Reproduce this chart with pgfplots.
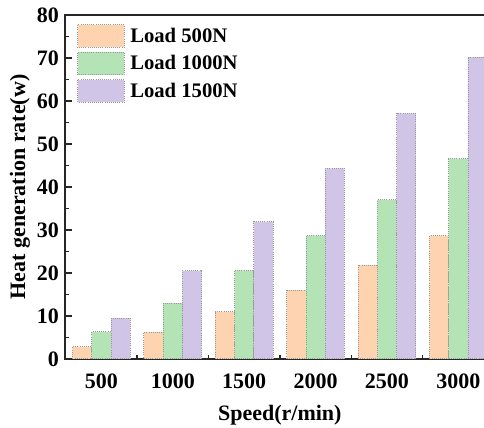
\documentclass[border=0pt]{standalone}
\usepackage{pgfplots}
\pgfplotsset{compat=1.18}
\usepackage{fontspec}
\setmainfont{Liberation Serif}

\definecolor{cOrange}{HTML}{FDD4AF}
\definecolor{cGreen}{HTML}{B4E3B6}
\definecolor{cPurple}{HTML}{D0C5E6}
\newcommand{\lbl}{\fontsize{16.5}{19}\selectfont\bfseries}
\newcommand{\leg}{\fontsize{15.5}{18}\selectfont\bfseries}

\begin{document}
\begin{tikzpicture}
\begin{axis}[
    scale only axis,
    width=322.4pt, height=258pt,
    ybar=0pt,
    bar width=0.27,
    xmin=-0.51, xmax=5.51,
    ymin=0, ymax=80,
    xtick={0,1,2,3,4,5},
    xticklabels={500,1000,1500,2000,2500,3000},
    minor x tick num=1,
    ytick={0,10,...,80},
    minor y tick num=1,
    tick align=inside,
    xtick pos=lower, ytick pos=left,
    major tick length=5pt, minor tick length=3pt,
    axis line style={line width=1.2pt, black!85},
    tick style={line width=1pt, black!85},
    /pgf/number format/assume math mode=true,
    ticklabel style={font=\lbl},
    xticklabel style={yshift=-8pt},
    yticklabel style={xshift=-1pt},
    xlabel={Speed(r/min)},
    ylabel={Heat generation rate(w)},
    every axis x label/.style={at={(rel axis cs:0.5,0)}, yshift=-42pt, anchor=center, font=\lbl},
    every axis y label/.style={at={(rel axis cs:0,0.5)}, xshift=-33.75pt, rotate=90, anchor=center, font=\lbl},
    legend cell align=left,
    legend style={at={(rel axis cs:0,1)}, anchor=north west, xshift=9pt, yshift=-6.75pt,
        draw=none, fill=none, inner xsep=0pt, inner ysep=0pt, font=\leg,
        nodes={inner sep=1.5pt}, row sep=3pt},
    legend image code/.code={%
        \draw[#1, bar shift=0pt] (0pt,-8.5pt) rectangle (35pt,8.5pt);
        \path[draw=none, fill=none] (0pt,0pt) -- (38pt,0pt);},
]
\addplot[fill=cOrange, draw=gray!80, densely dotted, line width=0.6pt] coordinates
    {(0,2.8) (1,6.2) (2,11.0) (3,16.0) (4,21.8) (5,28.7)};
\addplot[fill=cGreen, draw=gray!80, densely dotted, line width=0.6pt] coordinates
    {(0,6.3) (1,13.0) (2,20.6) (3,28.7) (4,37.0) (5,46.6)};
\addplot[fill=cPurple, draw=gray!80, densely dotted, line width=0.6pt] coordinates
    {(0,9.5) (1,20.5) (2,31.9) (3,44.3) (4,57.1) (5,70.2)};
\legend{Load 500N, Load 1000N, Load 1500N}
\coordinate (ur) at (axis cs:5.36,80);
\end{axis}
\pgfresetboundingbox
\path[use as bounding box] ([shift={(-48.75pt,-51.75pt)}]current axis.south west)
    rectangle ([yshift=11.25pt]ur);
\end{tikzpicture}
\end{document}
